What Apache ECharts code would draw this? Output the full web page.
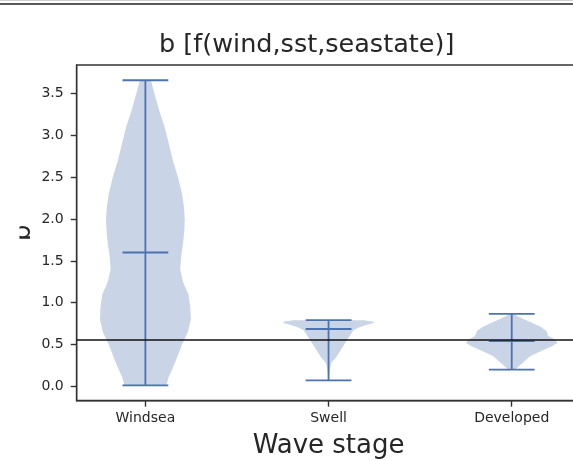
<!DOCTYPE html>
<html>
<head>
<meta charset="utf-8">
<script src="https://cdn.jsdelivr.net/npm/echarts@6/dist/echarts.min.js"></script>
<style>
  html, body { margin: 0; padding: 0; background: #fff; }
  #violinChart { width: 573px; height: 461px; }
</style>
</head>
<body>
<div id="violinChart"></div>
<script>
// categories and positions on the x axis
const categories = ['Windsea', 'Swell', 'Developed']
const positions = [1, 2, 3]

// density outlines: [value, half width]
const windseaProfile = [
  [0.01, 0.115], [0.1, 0.125], [0.3, 0.165], [0.5, 0.2], [0.65, 0.232], [0.8, 0.248],
  [0.95, 0.245], [1.1, 0.235], [1.25, 0.205], [1.4, 0.19], [1.55, 0.195], [1.7, 0.205],
  [1.85, 0.212], [2.0, 0.215], [2.15, 0.21], [2.3, 0.2], [2.5, 0.178], [2.7, 0.15],
  [2.9, 0.128], [3.1, 0.105], [3.3, 0.075], [3.5, 0.05], [3.66, 0.03]
]
const swellProfile = [
  [0.07, 0.003], [0.15, 0.004], [0.22, 0.008], [0.28, 0.015], [0.34, 0.04], [0.44, 0.068],
  [0.55, 0.1], [0.67, 0.136], [0.71, 0.172], [0.74, 0.215], [0.76, 0.25], [0.775, 0.24],
  [0.79, 0.19]
]
const developedProfile = [
  [0.2, 0.02], [0.25, 0.045], [0.3, 0.07], [0.36, 0.1], [0.43, 0.17], [0.48, 0.22],
  [0.52, 0.25], [0.56, 0.235], [0.6, 0.2], [0.66, 0.19], [0.71, 0.16], [0.76, 0.11],
  [0.8, 0.07], [0.84, 0.03], [0.865, 0.01]
]
const profiles = [windseaProfile, swellProfile, developedProfile]

const mins = [0.01, 0.07, 0.2]
const maxs = [3.66, 0.79, 0.865]
const medians = [1.6, 0.685, 0.54]
const refLine = 0.562
const yTicks = [0, 0.5, 1, 1.5, 2, 2.5, 3, 3.5]

const lineColor = '#4c72b0'
const capHalf = 0.125

function renderViolin(params, api) {
  const i = params.dataIndex
  const pos = api.value(0)
  const prof = profiles[i]
  const leftSide = prof.map(p => api.coord([pos - p[1], p[0]]))
  const rightSide = prof.slice().reverse().map(p => api.coord([pos + p[1], p[0]]))
  const lineStyle = { stroke: lineColor, lineWidth: 1.8, fill: null }
  const seg = (x1, y1, x2, y2) => {
    const a = api.coord([x1, y1])
    const b = api.coord([x2, y2])
    return { type: 'line', shape: { x1: a[0], y1: a[1], x2: b[0], y2: b[1] }, style: lineStyle }
  }
  return {
    type: 'group',
    children: [
      { type: 'polygon', shape: { points: leftSide.concat(rightSide) }, style: { fill: 'rgba(76,114,176,0.3)' } },
      seg(pos, mins[i], pos, maxs[i]),
      seg(pos - capHalf, mins[i], pos + capHalf, mins[i]),
      seg(pos - capHalf, maxs[i], pos + capHalf, maxs[i]),
      seg(pos - capHalf, medians[i], pos + capHalf, medians[i])
    ]
  }
}

const chart = echarts.init(document.getElementById('violinChart'))
chart.setOption({
  animation: false,
  textStyle: { fontFamily: 'DejaVu Sans' },
  grid: {
    left: 76.7,
    top: 65,
    width: 503.7,
    height: 335.7,
    outerBoundsMode: 'none',
    containLabel: false,
    show: true,
    borderColor: '#333',
    borderWidth: 1.4
  },
  xAxis: {
    type: 'value',
    min: 0.625,
    max: 3.375,
    splitLine: { show: false },
    axisLine: { show: true, onZero: false, lineStyle: { color: '#333', width: 1.4 } },
    axisTick: { customValues: positions, length: 6, lineStyle: { color: '#333', width: 1.4 } },
    axisLabel: {
      customValues: positions,
      formatter: v => categories[Math.round(v) - 1],
      fontSize: 14,
      color: '#262626',
      margin: 11
    },
    name: 'Wave stage',
    nameLocation: 'middle',
    nameGap: 33,
    nameMoveOverlap: false,
    nameTextStyle: { fontSize: 26, color: '#262626' }
  },
  yAxis: {
    type: 'value',
    min: -0.1725,
    max: 3.8425,
    splitLine: { show: false },
    axisLine: { show: true, onZero: false, lineStyle: { color: '#333', width: 1.4 } },
    axisTick: { customValues: yTicks, length: 6, lineStyle: { color: '#333', width: 1.4 } },
    axisLabel: {
      customValues: yTicks,
      formatter: v => v.toFixed(1),
      fontSize: 14,
      color: '#262626',
      margin: 13
    },
    name: 'b',
    nameLocation: 'middle',
    nameRotate: 90,
    nameGap: 40,
    nameMoveOverlap: false,
    nameTextStyle: { fontSize: 26, color: '#262626' }
  },
  graphic: [
    { type: 'line', shape: { x1: 0, y1: 0.5, x2: 573, y2: 0.5 }, style: { stroke: '#d0d0d0', lineWidth: 1 } },
    { type: 'line', shape: { x1: 0, y1: 4, x2: 573, y2: 4 }, style: { stroke: '#222', lineWidth: 1.5 } },
    { type: 'rect', z: 100, shape: { x: 0, y: 180, width: 19.5, height: 110 }, style: { fill: '#fff' } },
    {
      type: 'text',
      x: 306.7,
      y: 32,
      style: { text: 'b [f(wind,sst,seastate)]', font: '25.5px "DejaVu Sans"', fill: '#262626', textAlign: 'center', textVerticalAlign: 'top' }
    }
  ],
  series: [
    {
      type: 'custom',
      renderItem: renderViolin,
      data: positions.map(p => [p]),
      markLine: {
        silent: true,
        symbol: 'none',
        label: { show: false },
        lineStyle: { color: '#111', width: 1.5, type: 'solid' },
        data: [{ yAxis: refLine }]
      }
    }
  ]
})
</script>
</body>
</html>
